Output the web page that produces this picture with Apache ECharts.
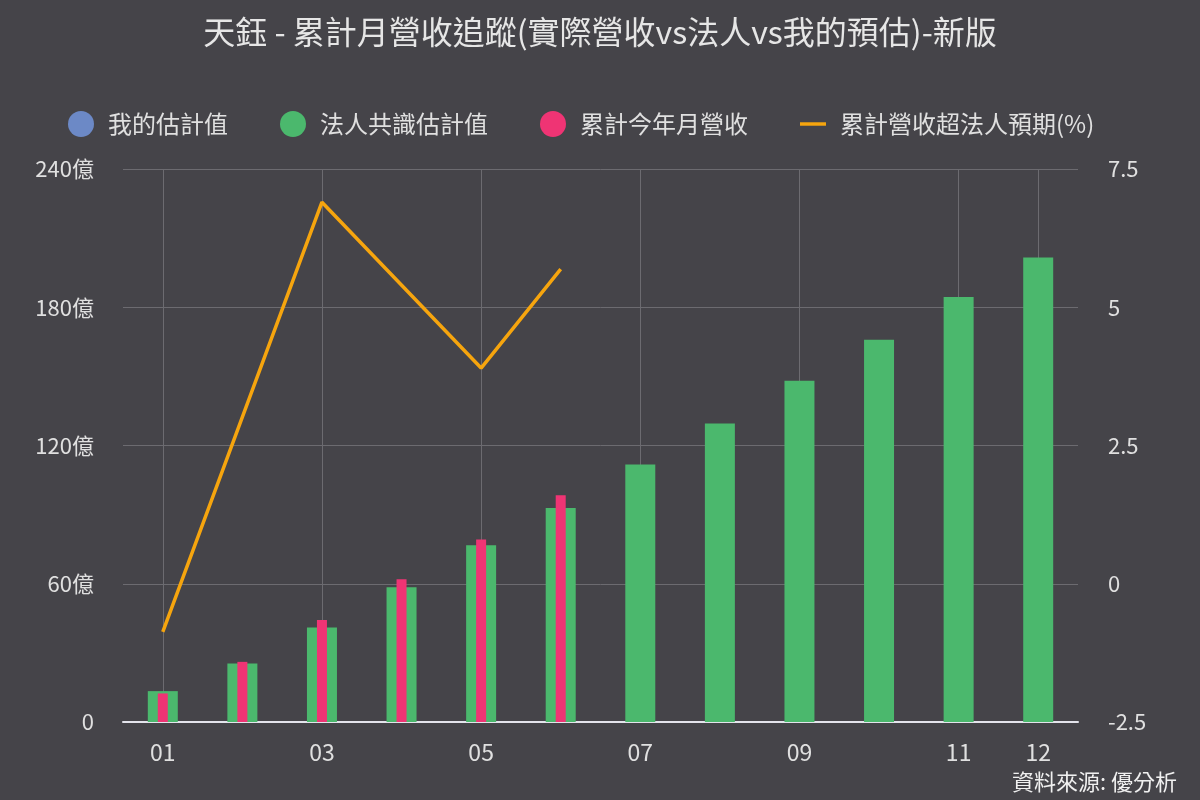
<!DOCTYPE html>
<html>
<head>
<meta charset="utf-8">
<script src="https://cdn.jsdelivr.net/npm/echarts@6/dist/echarts.min.js"></script>
<style>
  html, body { margin: 0; padding: 0; background: #454449; }
  #main { width: 1200px; height: 800px; }
</style>
</head>
<body>
<div id="main"></div>
<script>
// 月份
var months = ['01', '02', '03', '04', '05', '06', '07', '08', '09', '10', '11', '12'];
// 我的估計值 (沒有資料)
var myEstimate = [];
// 法人共識估計值 (億)
var consensus = [13.4, 25.4, 41.0, 58.5, 76.7, 92.9, 111.7, 129.5, 148.1, 165.9, 184.5, 201.6];
// 累計今年月營收 (億)
var actual = [12.4, 26.1, 44.3, 62.0, 79.2, 98.4];
// 累計營收超法人預期(%)
var beatPct = [-0.87, null, 6.9, null, 3.9, 5.69];

var chart = echarts.init(document.getElementById('main'));
var font = '"Noto Sans CJK TC", "Noto Sans", sans-serif';
var showIdx = function (i) { return i % 2 === 0 || i === 11; };

var option = {
    backgroundColor: '#454449',
    textStyle: { fontFamily: font },
    title: [{
        text: '天鈺 - 累計月營收追蹤(實際營收vs法人vs我的預估)-新版',
        left: 'center',
        top: 11,
        textStyle: { color: '#e6e6e6', fontSize: 32, fontWeight: 'normal', fontFamily: font }
    }, {
        text: '資料來源: 優分析',
        right: 18,
        bottom: 2,
        textStyle: { color: '#f0f0f0', fontSize: 22, fontWeight: 'normal', fontFamily: font }
    }],
    legend: {
        top: 106,
        left: 63,
        itemWidth: 26,
        itemHeight: 26,
        itemGap: 52,
        textStyle: { color: '#e0e0e0', fontSize: 24, padding: [0, 0, 0, 9] },
        data: [
            { name: '我的估計值', icon: 'circle' },
            { name: '法人共識估計值', icon: 'circle' },
            { name: '累計今年月營收', icon: 'circle' },
            { name: '累計營收超法人預期(%)', icon: 'path://M0,0h30v4h-30z' }
        ]
    },
    grid: { left: 123, right: 122, top: 169, bottom: 78 },
    xAxis: [{
        type: 'category',
        data: months,
        axisLine: { lineStyle: { color: '#e4e4ec', width: 2 } },
        axisTick: { show: false },
        axisLabel: { color: '#e0e0e0', fontSize: 23, margin: 19, interval: showIdx },
        splitLine: { show: true, interval: showIdx, alignWithLabel: true, lineStyle: { color: '#6c6b70', width: 1 } }
    }, {
        type: 'category',
        data: months,
        show: false
    }],
    yAxis: [{
        type: 'value',
        min: 0,
        max: 240,
        interval: 60,
        axisLine: { show: false },
        axisTick: { show: false },
        axisLabel: {
            color: '#e0e0e0', fontSize: 22, margin: 29,
            formatter: function (v) { return v === 0 ? '0' : v + '億'; }
        },
        splitLine: { lineStyle: { color: '#6c6b70', width: 1 } }
    }, {
        type: 'value',
        min: -2.5,
        max: 7.5,
        interval: 2.5,
        axisLine: { show: false },
        axisTick: { show: false },
        axisLabel: { color: '#e0e0e0', fontSize: 22, margin: 30 },
        splitLine: { show: false }
    }],
    series: [{
        name: '我的估計值',
        type: 'bar',
        stack: 'g',
        xAxisIndex: 0,
        barWidth: 30,
        itemStyle: { color: '#6c89c6' },
        data: myEstimate
    }, {
        name: '法人共識估計值',
        type: 'bar',
        stack: 'g',
        xAxisIndex: 0,
        barWidth: 30,
        itemStyle: { color: '#4bb86d' },
        data: consensus
    }, {
        name: '累計今年月營收',
        type: 'bar',
        xAxisIndex: 1,
        barWidth: 10,
        itemStyle: { color: '#ef3474' },
        data: actual
    }, {
        name: '累計營收超法人預期(%)',
        type: 'line',
        xAxisIndex: 0,
        yAxisIndex: 1,
        symbol: 'none',
        connectNulls: true,
        lineStyle: { color: '#f6a50e', width: 3.5 },
        itemStyle: { color: '#f6a50e' },
        data: beatPct
    }]
};
chart.setOption(option);
</script>
</body>
</html>
